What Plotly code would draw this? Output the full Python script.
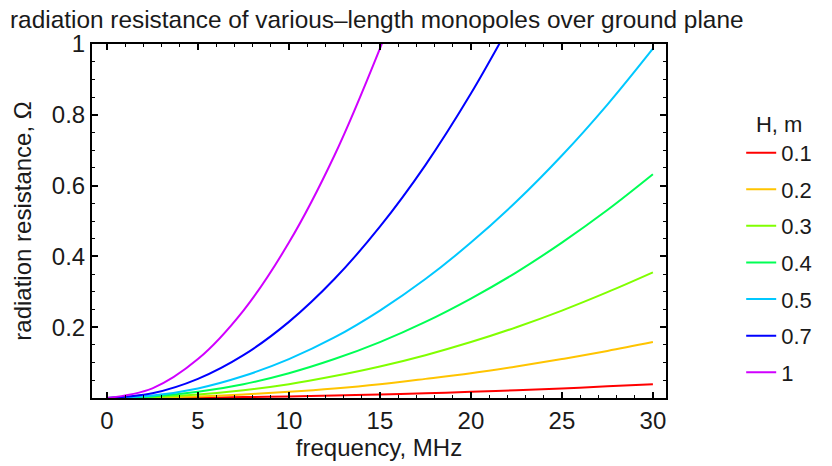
import plotly.graph_objects as go

# frequency, MHz
freq = [0, 2.5, 5, 7.5, 10, 12.5, 15, 17.5, 20, 22.5, 25, 27.5, 30]
freq_07 = [0, 2.5, 5, 7.5, 10, 12.5, 15, 17.5, 20, 22.5]
freq_1 = [0, 2.5, 5, 7.5, 10, 12.5, 15, 16]

# radiation resistance, Ohm
r_01 = [0, 0.0003, 0.001, 0.0025, 0.0044, 0.007, 0.0099, 0.0134, 0.0175, 0.022, 0.027, 0.033, 0.039]
r_02 = [0, 0.0011, 0.0044, 0.0099, 0.0175, 0.027, 0.039, 0.054, 0.070, 0.089, 0.110, 0.133, 0.158]
r_03 = [0, 0.0025, 0.0099, 0.022, 0.039, 0.062, 0.089, 0.121, 0.158, 0.200, 0.247, 0.299, 0.355]
r_04 = [0, 0.0044, 0.0175, 0.039, 0.070, 0.110, 0.158, 0.215, 0.281, 0.355, 0.439, 0.531, 0.632]
r_05 = [0, 0.0069, 0.027, 0.062, 0.110, 0.171, 0.247, 0.336, 0.439, 0.555, 0.685, 0.829, 0.987]
r_07 = [0, 0.0134, 0.054, 0.121, 0.215, 0.336, 0.484, 0.658, 0.860, 1.088]
r_1 = [0, 0.0274, 0.110, 0.247, 0.439, 0.685, 0.987, 1.123]

labels = ["0.1", "0.2", "0.3", "0.4", "0.5", "0.7", "1"]
colors = ["#FF0000", "#FFC400", "#80FF00", "#00FF55", "#00C8FF", "#0000FF", "#D000FF"]
series = [(freq, r_01), (freq, r_02), (freq, r_03), (freq, r_04), (freq, r_05), (freq_07, r_07), (freq_1, r_1)]

FONT = "Liberation Sans, Arial, Helvetica, sans-serif"
TXT = "#1a1a1a"
FS = 24

fig = go.Figure()
for (x, y), lab, col in zip(series, labels, colors):
    fig.add_trace(go.Scatter(x=x, y=y, mode="lines", name=lab, legendgroup=lab,
                             line=dict(color=col, width=2, shape="spline", smoothing=1.0)))

axis_common = dict(showline=True, linecolor="black", linewidth=2, mirror="ticks",
                   ticks="inside", tickcolor="black", tickwidth=1.5, ticklen=6,
                   showgrid=False, zeroline=False, automargin=False,
                   tickfont=dict(family=FONT, size=FS, color=TXT))

fig.update_xaxes(range=[-0.82, 30.72], tickmode="array", tickvals=[0, 5, 10, 15, 20, 25, 30],
                 minor=dict(dtick=1, tick0=0, ticks="inside", ticklen=3, tickcolor="black", tickwidth=1.2),
                 title=dict(text="frequency, MHz", font=dict(family=FONT, size=FS, color=TXT), standoff=2),
                 **axis_common)
fig.update_yaxes(range=[0, 1], tickmode="array", tickvals=[0.2, 0.4, 0.6, 0.8, 1],
                 ticktext=["0.2", "0.4", "0.6", "0.8", "1"],
                 minor=dict(dtick=0.05, tick0=0, ticks="inside", ticklen=3, tickcolor="black", tickwidth=1.2),
                 title=dict(text="radiation resistance, Ω", font=dict(family=FONT, size=FS, color=TXT), standoff=13),
                 **axis_common)

fig.update_layout(
    width=832, height=466,
    margin=dict(l=92, r=166, t=44, b=68),
    paper_bgcolor="white", plot_bgcolor="white",
    title=dict(text="radiation resistance of various–length monopoles over ground plane",
               x=0.012, xanchor="left", y=1 - 19 / 466, yanchor="middle",
               font=dict(family=FONT, size=24.4, color=TXT)),
    legend=dict(x=1.131, xanchor="left", y=0.423, yanchor="middle",
                font=dict(family=FONT, size=22, color=TXT),
                title=dict(text="H, m", side="top center", font=dict(family=FONT, size=22, color=TXT)),
                tracegroupgap=5, itemwidth=30),
    showlegend=True,
)

fig.write_html("out.html", config={"displayModeBar": False},
               post_script="document.body.style.margin='0';document.body.style.overflow='hidden';")
